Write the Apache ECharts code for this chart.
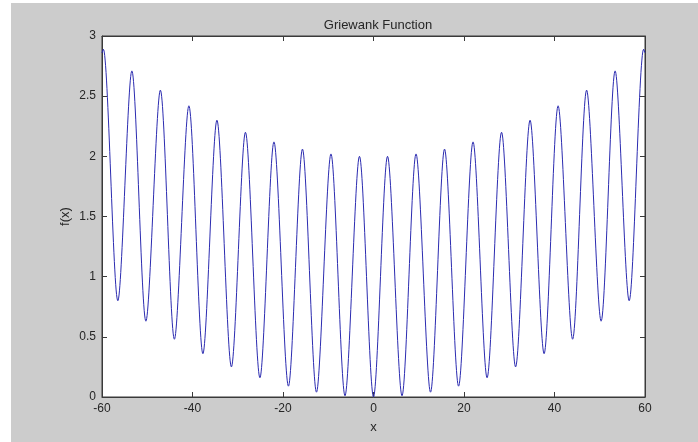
<!DOCTYPE html>
<html>
<head>
<meta charset="utf-8">
<script src="https://cdn.jsdelivr.net/npm/echarts@6/dist/echarts.min.js"></script>
<style>
  html, body { margin: 0; padding: 0; background: #ffffff; }
  #bg { position: absolute; left: 11px; top: 3px; width: 687px; height: 439px; background: #cccccc; }
  #chart { position: absolute; left: 0; top: 0; width: 698px; height: 442px; }
</style>
</head>
<body>
<div id="bg"></div>
<div id="chart"></div>
<script>
// Values: local maxima / minima of the curve (x, f(x))
const xValues = [-60, -59.7, -56.5, -53.4, -50.3, -47.1, -44.0, -40.8, -37.7, -34.6, -31.4, -28.3, -25.1, -22.0, -18.8, -15.7, -12.6, -9.4, -6.3, -3.1, 0,
                 3.1, 6.3, 9.4, 12.6, 15.7, 18.8, 22.0, 25.1, 28.3, 31.4, 34.6, 37.7, 40.8, 44.0, 47.1, 50.3, 53.4, 56.5, 59.7, 60];
const yValues = [2.86, 2.89, 0.80, 2.71, 0.63, 2.55, 0.48, 2.42, 0.36, 2.30, 0.25, 2.20, 0.16, 2.12, 0.09, 2.06, 0.04, 2.02, 0.01, 2.00, 0.00,
                 2.00, 0.01, 2.02, 0.04, 2.06, 0.09, 2.12, 0.16, 2.20, 0.25, 2.30, 0.36, 2.42, 0.48, 2.55, 0.63, 2.71, 0.80, 2.89, 2.86];
const xTicks = [-60, -40, -20, 0, 20, 40, 60];
const yTicks = [0, 0.5, 1, 1.5, 2, 2.5, 3];
const titleText = 'Griewank Function';
const xName = 'x';
const yName = 'f(x)';

const seriesData = xValues.map((x, i) => [x, yValues[i]]);
const font = '"Liberation Sans", Arial, sans-serif';
const textColor = '#262626';
const axisColor = '#3a3a3a';

const chart = echarts.init(document.getElementById('chart'), null, { renderer: 'canvas' });
const baseX = {
  type: 'value', min: xTicks[0], max: xTicks[xTicks.length - 1], interval: 20,
  axisLine: { show: true, onZero: false, lineStyle: { color: axisColor, width: 1 } },
  axisTick: { show: true, inside: true, length: 5, lineStyle: { color: axisColor } },
  splitLine: { show: false }
};
const baseY = {
  type: 'value', min: yTicks[0], max: yTicks[yTicks.length - 1], interval: 0.5,
  axisLine: { show: true, onZero: false, lineStyle: { color: axisColor, width: 1 } },
  axisTick: { show: true, inside: true, length: 5, lineStyle: { color: axisColor } },
  splitLine: { show: false }
};
chart.setOption({
  backgroundColor: 'transparent',
  animation: false,
  title: {
    text: titleText, left: 373, top: 14, textAlign: 'center',
    textStyle: { fontFamily: font, fontSize: 13, fontWeight: 'normal', color: textColor }
  },
  grid: { left: 102, top: 36, width: 543, height: 361, show: true, backgroundColor: '#ffffff', borderColor: axisColor, borderWidth: 1 },
  xAxis: [
    Object.assign({}, baseX, {
      position: 'bottom',
      name: xName, nameLocation: 'middle', nameGap: 24, nameMoveOverlap: false,
      nameTextStyle: { fontFamily: font, fontSize: 13, color: textColor },
      axisLabel: { show: true, margin: 6, fontFamily: font, fontSize: 12, color: textColor,
        formatter: v => String(v) }
    }),
    Object.assign({}, baseX, { position: 'top', axisLabel: { show: false } })
  ],
  yAxis: [
    Object.assign({}, baseY, {
      position: 'left',
      name: yName, nameLocation: 'middle', nameGap: 30, nameRotate: 90, nameMoveOverlap: false,
      nameTextStyle: { fontFamily: font, fontSize: 13, color: textColor },
      axisLabel: { show: true, margin: 6, fontFamily: font, fontSize: 12, color: textColor,
        formatter: v => String(v) }
    }),
    Object.assign({}, baseY, { position: 'right', axisLabel: { show: false } })
  ],
  series: [{
    type: 'line',
    xAxisIndex: 0, yAxisIndex: 0,
    data: seriesData,
    smooth: 0.3,
    showSymbol: false,
    lineStyle: { color: '#2b2bb0', width: 1 }
  }]
});
</script>
</body>
</html>
